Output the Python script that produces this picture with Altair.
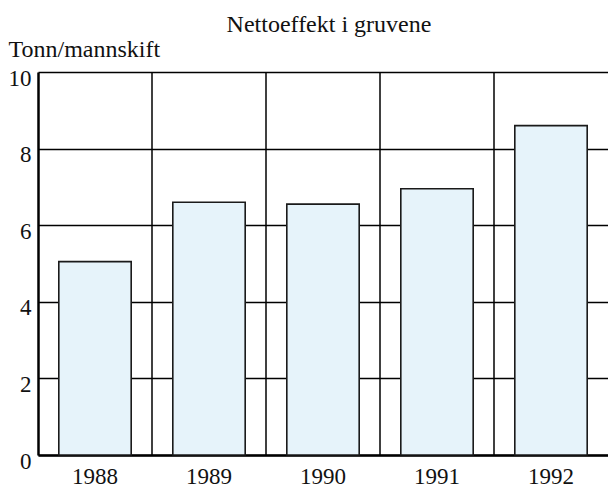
import altair as alt
import pandas as pd

years = ["1988", "1989", "1990", "1991", "1992"]
values = [5.05, 6.6, 6.55, 6.95, 8.6]
y_ticks = [0, 2, 4, 6, 8, 10]

df = pd.DataFrame({"year": years, "value": values})

FONT = "Liberation Serif"
W, H = 570, 383
P_IN = 0.365
STEP = W / len(years)
xscale = alt.Scale(paddingInner=P_IN, paddingOuter=P_IN / 2)

base = alt.Chart(df)

bars = base.mark_bar(fill="#e6f3fa", stroke="#1a1a1a", strokeWidth=1.6).encode(
    x=alt.X(
        "year:N",
        scale=xscale,
        axis=alt.Axis(labelAngle=0, title=None, ticks=False, labelPadding=10),
    ),
    y=alt.Y(
        "value:Q",
        scale=alt.Scale(domain=[0, 10]),
        axis=alt.Axis(
            values=y_ticks, grid=True, ticks=False, labelPadding=7, labelOffset=6,
            title="Tonn/mannskift", titleAngle=0, titleX=-30, titleY=-16,
            titleAlign="left", titleBaseline="alphabetic",
        ),
    ),
)

rules = base.transform_filter("datum.year != '1992'").mark_rule(
    color="black", strokeWidth=1.5
).encode(
    x=alt.X("year:N", scale=xscale),
    xOffset=alt.value(STEP * (1 - P_IN / 2)),
    y=alt.Y(datum=0),
    y2=alt.Y2(datum=10),
)

chart = (
    alt.layer(bars, rules)
    .properties(
        width=W,
        height=H,
        title=alt.TitleParams("Nettoeffekt i gruvene", anchor="middle", offset=0, dx=6),
        autosize=alt.AutoSizeParams(type="none"),
        padding={"left": 30, "top": 64, "right": 0, "bottom": 37},
    )
    .configure_view(stroke=None)
    .configure_axis(
        labelFont=FONT, labelFontSize=23, labelColor="#111",
        titleFont=FONT, titleFontSize=24, titleFontWeight="normal", titleColor="#111",
        domainColor="black", domainWidth=2.5, gridColor="black", gridWidth=1.5,
    )
    .configure_title(font=FONT, fontSize=24, fontWeight="normal", color="#111")
)

chart.save("out.html", embed_options={"renderer": "svg", "actions": False})
